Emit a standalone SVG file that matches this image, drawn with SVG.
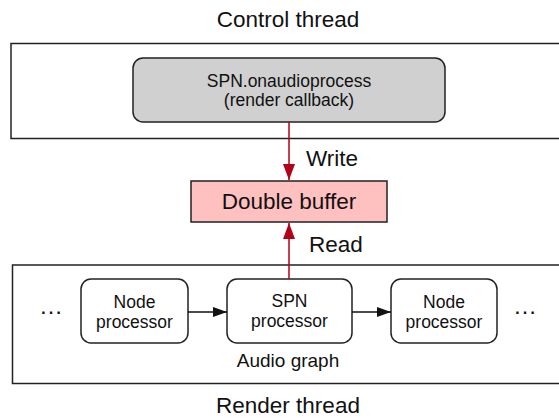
<svg xmlns="http://www.w3.org/2000/svg" width="559" height="419" viewBox="0 0 559 419">
<defs>
<style>
text{font-family:"Liberation Sans",Arial,sans-serif;fill:#111;text-anchor:middle}
.big{font-size:22.5px}
.mid{font-size:19px}
.sm{font-size:17.5px}
.dots{font-size:24px}
.frame{fill:#fff;stroke:#222;stroke-width:1.5}
.node{fill:#fff;stroke:#222;stroke-width:1.5}
.red{stroke:#b3001b;stroke-width:1.5;fill:none}
.blk{stroke:#111;stroke-width:1.5;fill:none}
</style>
<marker id="ar" viewBox="0 0 16 12" refX="16" refY="6" markerWidth="16" markerHeight="12" markerUnits="userSpaceOnUse" orient="auto">
<path d="M0,0 L16,6 L0,12 Z" fill="#b3001b"/>
</marker>
<marker id="ab" viewBox="0 0 14 10" refX="14" refY="5" markerWidth="14" markerHeight="10" markerUnits="userSpaceOnUse" orient="auto">
<path d="M0,0 L14,5 L0,10 Z" fill="#111"/>
</marker>
</defs>
<rect width="559" height="419" fill="#fff"/>
<g id="control-thread">
<text class="big" x="288" y="27">Control thread</text>
<rect class="frame" x="11" y="43.5" width="560" height="95"/>
</g>
<g id="render-thread">
<rect class="frame" x="12.5" y="265" width="560" height="118.5"/>
<text class="mid" x="288" y="367">Audio graph</text>
<text class="big" x="288" y="413">Render thread</text>
</g>
<g id="callback">
<rect x="133" y="58" width="312" height="64" rx="10" fill="#d0d0d0" stroke="#222" stroke-width="1.5"/>
<text class="sm" x="289" y="87">SPN.onaudioprocess</text>
<text class="sm" x="289" y="106">(render callback)</text>
</g>
<g id="double-buffer">
<rect x="191" y="181" width="196" height="41" fill="#ffc0c0" stroke="#222" stroke-width="1.5"/>
<text class="big" x="289" y="209">Double buffer</text>
</g>
<g id="node1">
<rect class="node" x="81" y="279" width="107" height="64" rx="10"/>
<text class="sm" x="134.5" y="308">Node</text>
<text class="sm" x="134.5" y="328">processor</text>
</g>
<g id="spn">
<rect class="node" x="227" y="279" width="125" height="64" rx="10"/>
<text class="sm" x="289.5" y="307">SPN</text>
<text class="sm" x="289.5" y="327">processor</text>
</g>
<g id="node2">
<rect class="node" x="391" y="279" width="106" height="64" rx="10"/>
<text class="sm" x="444" y="308">Node</text>
<text class="sm" x="444" y="328">processor</text>
</g>
<g id="ellipsis-left"><text class="dots" x="51" y="314">…</text></g>
<g id="ellipsis-right"><text class="dots" x="525" y="314">…</text></g>
<g id="connectors">
<line class="red" x1="289" y1="122" x2="289" y2="180" marker-end="url(#ar)"/>
<text class="big" x="306" y="166" style="text-anchor:start">Write</text>
<line class="red" x1="289" y1="279" x2="289" y2="223" marker-end="url(#ar)"/>
<text class="big" x="309" y="252" style="text-anchor:start">Read</text>
<line class="blk" x1="188" y1="312" x2="227" y2="312" marker-end="url(#ab)"/>
<line class="blk" x1="352" y1="312" x2="391" y2="312" marker-end="url(#ab)"/>
</g>
</svg>
